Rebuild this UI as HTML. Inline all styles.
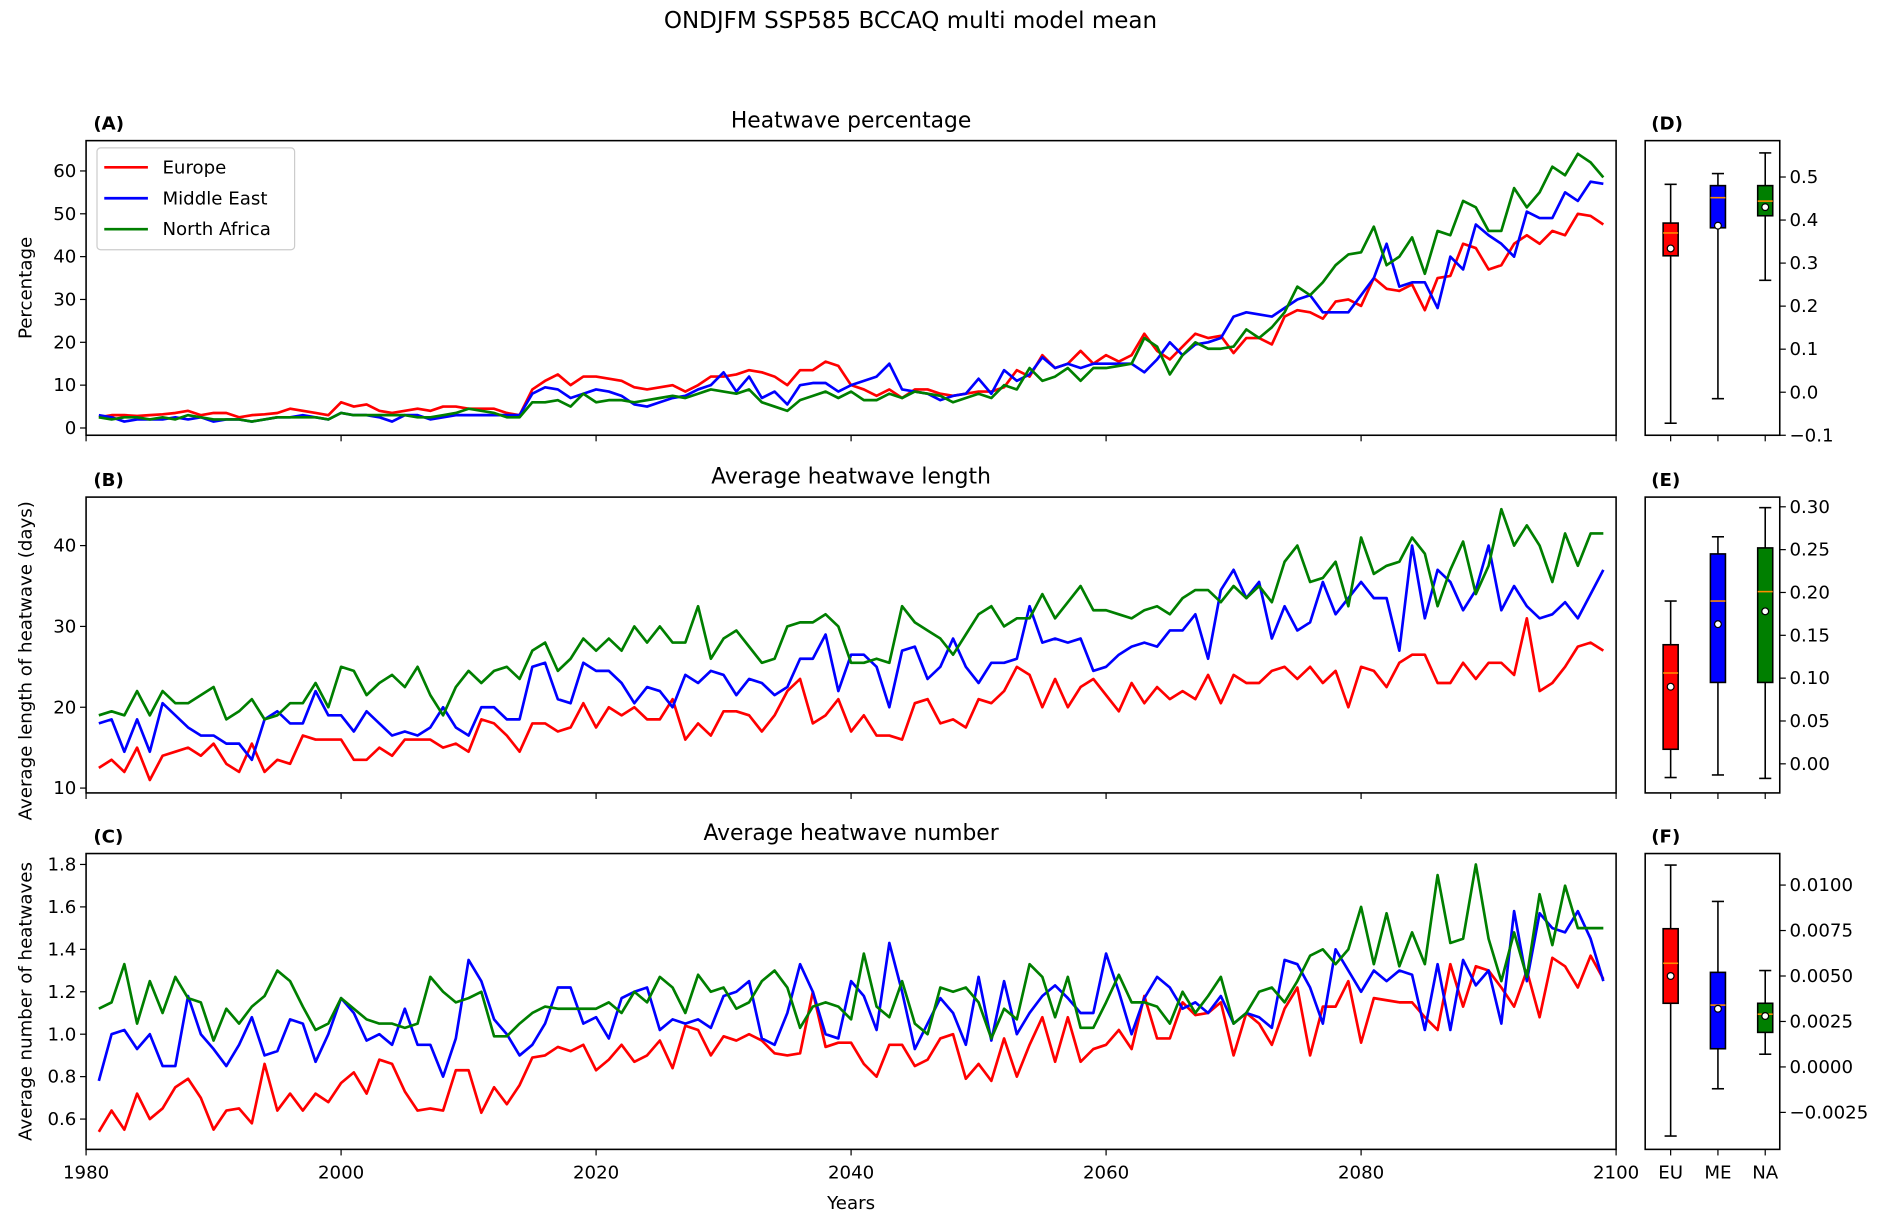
<!DOCTYPE html>
<html><head><meta charset="utf-8"><style>
html,body{margin:0;padding:0;background:#fff;}
svg{display:block;font-family:"DejaVu Sans","Liberation Sans",sans-serif;}
</style></head><body>
<svg id="fig" width="1901" height="1218" viewBox="0 0 1568 1004.6" preserveAspectRatio="none" xmlns="http://www.w3.org/2000/svg">
<rect width="1568" height="1004.6" fill="#fff"/>
<text x="751" y="23" font-size="19" text-anchor="middle">ONDJFM SSP585 BCCAQ multi model mean</text>
</svg>
<script>
const years=[];for(let y=1981;y<=2099;y++)years.push(y);
const pctEU=[2.5,3,3,2.8,3,3.2,3.5,4,3,3.5, 3.5,2.5,3,3.2,3.5,4.5,4,3.5,3,6, 5,5.5,4,3.5,4,4.5,4,5,5,4.5, 4.5,4.5,3.5,3,9,11,12.5,10,12,12, 11.5,11,9.5,9,9.5,10,8.5,10,12,12, 12.5,13.5,13,12,10,13.5,13.5,15.5,14.5,10, 9,7.5,9,7,9,9,8,7.5,8,8.5, 8.5,9.5,13.5,12,17,14,15,18,15,17, 15.5,17,22,18,16,19,22,21,21.5,17.5, 21,21,19.5,26,27.5,27,25.5,29.5,30,28.5, 35,32.5,32,33.5,27.5,35,35.5,43,42,37, 38,43,45,43,46,45,50,49.5,47.5];
const pctME=[3,2.5,1.5,2,2,2,2.5,2,2.5,1.5, 2,2,1.5,2,2.5,2.5,3,2.5,2,3.5, 3,3,2.5,1.5,3,3,2,2.5,3,3, 3,3,3,3,8,9.5,9,7,8,9, 8.5,7.5,5.5,5,6,7,7.5,9,10,13, 8.5,12,7,8.5,5.5,10,10.5,10.5,8.5,10, 11,12,15,9,8.5,8,6.5,7.5,8,11.5, 8,13.5,11,12.5,16.5,14,15,14,15,15, 15,15,13,16,20,17,19.5,20,21,26, 27,26.5,26,28,30,31,27,27,27,31, 35,43,33,34,34,28,40,37,47.5,45, 43,40,50.5,49,49,55,53,57.5,57];
const pctNA=[2.5,2,2.5,2.5,2,2.5,2,3,2.5,2, 2,2,1.5,2,2.5,2.5,2.5,2.5,2,3.5, 3,3,3,3,3,2.5,2.5,3,3.5,4.5, 4,3.5,2.5,2.5,6,6,6.5,5,8,6, 6.5,6.5,6,6.5,7,7.5,7,8,9,8.5, 8,9,6,5,4,6.5,7.5,8.5,7,8.5, 6.5,6.5,8,7,8.5,8,7.5,6,7,8, 7,10,9,14,11,12,14,11,14,14, 14.5,15,21,19,12.5,17,20,18.5,18.5,19, 23,21,23.5,27,33,31,34,38,40.5,41, 47,38,40,44.5,36,46,45,53,51.5,46, 46,56,51.5,55,61,59,64,62,58.5];
const lenEU=[12.5,13.5,12,15,11,14,14.5,15,14,15.5, 13,12,15.5,12,13.5,13,16.5,16,16,16, 13.5,13.5,15,14,16,16,16,15,15.5,14.5, 18.5,18,16.5,14.5,18,18,17,17.5,20.5,17.5, 20,19,20,18.5,18.5,21,16,18,16.5,19.5, 19.5,19,17,19,22,23.5,18,19,21,17, 19,16.5,16.5,16,20.5,21,18,18.5,17.5,21, 20.5,22,25,24,20,23.5,20,22.5,23.5,21.5, 19.5,23,20.5,22.5,21,22,21,24,20.5,24, 23,23,24.5,25,23.5,25,23,24.5,20,25, 24.5,22.5,25.5,26.5,26.5,23,23,25.5,23.5,25.5, 25.5,24,31,22,23,25,27.5,28,27];
const lenME=[18,18.5,14.5,18.5,14.5,20.5,19,17.5,16.5,16.5, 15.5,15.5,13.5,18.5,19.5,18,18,22,19,19, 17,19.5,18,16.5,17,16.5,17.5,20,17.5,16.5, 20,20,18.5,18.5,25,25.5,21,20.5,25.5,24.5, 24.5,23,20.5,22.5,22,20,24,23,24.5,24, 21.5,23.5,23,21.5,22.5,26,26,29,22,26.5, 26.5,25,20,27,27.5,23.5,25,28.5,25,23, 25.5,25.5,26,32.5,28,28.5,28,28.5,24.5,25, 26.5,27.5,28,27.5,29.5,29.5,31.5,26,34.5,37, 33.5,35.5,28.5,32.5,29.5,30.5,35.5,31.5,33.5,35.5, 33.5,33.5,27,40,31,37,35.5,32,34.5,40, 32,35,32.5,31,31.5,33,31,34,37];
const lenNA=[19,19.5,19,22,19,22,20.5,20.5,21.5,22.5, 18.5,19.5,21,18.5,19,20.5,20.5,23,20,25, 24.5,21.5,23,24,22.5,25,21.5,19,22.5,24.5, 23,24.5,25,23.5,27,28,24.5,26,28.5,27, 28.5,27,30,28,30,28,28,32.5,26,28.5, 29.5,27.5,25.5,26,30,30.5,30.5,31.5,30,25.5, 25.5,26,25.5,32.5,30.5,29.5,28.5,26.5,29,31.5, 32.5,30,31,31,34,31,33,35,32,32, 31.5,31,32,32.5,31.5,33.5,34.5,34.5,33,35, 33.5,35,33,38,40,35.5,36,38,32.5,41, 36.5,37.5,38,41,39,32.5,37,40.5,34,37.5, 44.5,40,42.5,40,35.5,41.5,37.5,41.5,41.5];
const numEU=[0.54,0.64,0.55,0.72,0.6,0.65,0.75,0.79,0.7,0.55, 0.64,0.65,0.58,0.86,0.64,0.72,0.64,0.72,0.68,0.77, 0.82,0.72,0.88,0.86,0.73,0.64,0.65,0.64,0.83,0.83, 0.63,0.75,0.67,0.76,0.89,0.9,0.94,0.92,0.95,0.83, 0.88,0.95,0.87,0.9,0.97,0.84,1.04,1.02,0.9,0.99, 0.97,1.0,0.97,0.91,0.9,0.91,1.2,0.94,0.96,0.96, 0.86,0.8,0.95,0.95,0.85,0.88,0.98,1.0,0.79,0.86, 0.78,0.98,0.8,0.95,1.08,0.87,1.08,0.87,0.93,0.95, 1.02,0.93,1.18,0.98,0.98,1.15,1.09,1.1,1.15,0.9, 1.1,1.05,0.95,1.12,1.22,0.9,1.13,1.13,1.25,0.96, 1.17,1.16,1.15,1.15,1.08,1.02,1.33,1.13,1.32,1.3, 1.22,1.13,1.3,1.08,1.36,1.32,1.22,1.37,1.26];
const numME=[0.78,1.0,1.02,0.93,1.0,0.85,0.85,1.18,1.0,0.93, 0.85,0.95,1.08,0.9,0.92,1.07,1.05,0.87,1.0,1.17, 1.1,0.97,1.0,0.95,1.12,0.95,0.95,0.8,0.98,1.35, 1.25,1.07,1.0,0.9,0.95,1.05,1.22,1.22,1.05,1.08, 0.98,1.17,1.2,1.22,1.02,1.07,1.05,1.07,1.03,1.18, 1.2,1.25,0.98,0.95,1.1,1.33,1.2,1.0,0.98,1.25, 1.18,1.02,1.43,1.2,0.93,1.05,1.17,1.1,0.95,1.27, 0.97,1.25,1.0,1.1,1.18,1.23,1.17,1.1,1.1,1.38, 1.2,1.0,1.17,1.27,1.22,1.12,1.15,1.1,1.18,1.05, 1.1,1.08,1.03,1.35,1.33,1.22,1.05,1.4,1.3,1.2, 1.3,1.25,1.3,1.28,1.02,1.33,1.02,1.35,1.23,1.3, 1.05,1.58,1.25,1.57,1.5,1.48,1.58,1.45,1.25];
const numNA=[1.12,1.15,1.33,1.05,1.25,1.1,1.27,1.17,1.15,0.97, 1.12,1.05,1.13,1.18,1.3,1.25,1.13,1.02,1.05,1.17, 1.12,1.07,1.05,1.05,1.03,1.05,1.27,1.2,1.15,1.17, 1.2,0.99,0.99,1.05,1.1,1.13,1.12,1.12,1.12,1.12, 1.15,1.1,1.2,1.15,1.27,1.22,1.1,1.28,1.2,1.22, 1.12,1.15,1.25,1.3,1.22,1.03,1.13,1.15,1.13,1.07, 1.38,1.13,1.08,1.25,1.05,1.0,1.22,1.2,1.22,1.15, 0.98,1.12,1.07,1.33,1.27,1.08,1.27,1.03,1.03,1.15, 1.28,1.15,1.15,1.13,1.05,1.2,1.1,1.18,1.27,1.05, 1.1,1.2,1.22,1.15,1.25,1.37,1.4,1.33,1.4,1.6, 1.33,1.57,1.32,1.48,1.33,1.75,1.43,1.45,1.8,1.45, 1.25,1.48,1.27,1.66,1.42,1.7,1.5,1.5,1.5];
const boxCats=["EU","ME","NA"];
// [min,q1,median,q3,max,mean]
const boxD=[[-0.072,0.317,0.37,0.393,0.483,0.334],[-0.015,0.382,0.452,0.48,0.508,0.387],[0.26,0.41,0.444,0.48,0.556,0.43]];
const boxE=[[-0.016,0.017,0.106,0.139,0.19,0.09],[-0.013,0.095,0.19,0.245,0.265,0.163],[-0.017,0.095,0.201,0.252,0.299,0.178]];
const boxF=[[-0.0038,0.0035,0.0057,0.0076,0.0111,0.0050],[-0.0012,0.0010,0.0034,0.0052,0.0091,0.0032],[0.0007,0.0019,0.0029,0.0035,0.0053,0.0028]];
const xTicks=[1980,2000,2020,2040,2060,2080,2100];
const ticksA=[0,10,20,30,40,50,60];
const ticksB=[10,20,30,40];
const ticksC=[0.6,0.8,1.0,1.2,1.4,1.6,1.8];
const ticksD=[-0.1,0.0,0.1,0.2,0.3,0.4,0.5];
const ticksE=[0.00,0.05,0.10,0.15,0.20,0.25,0.30];
const ticksF=[-0.0025,0.0000,0.0025,0.0050,0.0075,0.0100];

const NS="http://www.w3.org/2000/svg";
const svg=document.getElementById('fig');
function mk(tag,attrs,parent){const e=document.createElementNS(NS,tag);for(const k in attrs)e.setAttribute(k,attrs[k]);(parent||svg).appendChild(e);return e;}
const X0=71,X1=1333;
const xs=v=>X0+(v-1980)/120*(X1-X0);
const colors=["#ff0000","#0000ff","#007f00"];
function lin(v0,p0,v1,p1){return v=>p0+(v-v0)/(v1-v0)*(p1-p0);}

const panels=[
 {lab:"(A)",title:"Heatwave percentage",top:116,bot:359,ys:lin(0,353,60,141),ticks:ticksA,fmt:v=>String(v),series:[pctEU,pctME,pctNA],ylab:"Percentage",yl:"a",
  box:boxD,bys:lin(0.5,146,-0.1,359),bt:ticksD,bf:v=>v.toFixed(1).replace('-','−'),blab:"(D)"},
 {lab:"(B)",title:"Average heatwave length",top:410,bot:654,ys:lin(10,650,40,450),ticks:ticksB,fmt:v=>String(v),series:[lenEU,lenME,lenNA],ylab:"Average length of heatwave (days)",yl:"b",
  box:boxE,bys:lin(0,630,0.3,418),bt:ticksE,bf:v=>v.toFixed(2),blab:"(E)"},
 {lab:"(C)",title:"Average heatwave number",top:704,bot:948,ys:lin(0.6,923,1.8,713),ticks:ticksC,fmt:v=>v.toFixed(1),series:[numEU,numME,numNA],ylab:"Average number of heatwaves",yl:"c",
  box:boxF,bys:lin(0,880,0.01,730),bt:ticksF,bf:v=>v.toFixed(4).replace('-','−'),blab:"(F)"}
];
const BX0=1357,BX1=1468,bxs=[1378,1417,1456];
panels.forEach((p,pi)=>{
  const g=mk('g',{});
  
  
  const t=mk('text',{x:702,y:p.top-11,'font-size':18,'text-anchor':'middle'},g);t.textContent=p.title;
  
  
  const l=mk('text',{x:77,y:p.top-9,'font-size':15,'font-weight':'bold'},g);l.textContent=p.lab;
  
  
  p.series.forEach((s,si)=>{
    const d=s.map((v,i)=>(i?'L':'M')+xs(years[i]).toFixed(2)+','+p.ys(v).toFixed(2)).join('');
    const pa=mk('path',{d:d,fill:'none',stroke:colors[si],'stroke-width':2.2,'stroke-linejoin':'round'},g);
    
    
  });
  const fr=mk('rect',{x:X0,y:p.top,width:X1-X0,height:p.bot-p.top,fill:'none',stroke:'#000','stroke-width':1.3},g);
  
  
  p.ticks.forEach(v=>{const y=p.ys(v);mk('line',{x1:X0-5,x2:X0,y1:y,y2:y,stroke:'#000'},g);
    const tt=mk('text',{x:X0-8,y:y+5,'font-size':15,'text-anchor':'end'},g);tt.textContent=p.fmt(v);
    
    });
  xTicks.forEach(v=>{const x=xs(v);mk('line',{x1:x,x2:x,y1:p.bot,y2:p.bot+5,stroke:'#000'},g);
    if(pi===2){const tt=mk('text',{x:x,y:p.bot+24,'font-size':15,'text-anchor':'middle'},g);tt.textContent=v;
      
      }});
  const cy=(p.top+p.bot)/2+(pi===1?-4:0);
  const yl=mk('text',{x:0,y:0,'font-size':15,'text-anchor':'middle',transform:`translate(26,${pi===1?545:cy}) rotate(-90)`},g);yl.textContent=p.ylab;
  
  
  const bl=mk('text',{x:1362,y:p.top-9,'font-size':15,'font-weight':'bold'},g);bl.textContent=p.blab;
  
  
  p.box.forEach((b,bi)=>{
    const x=bxs[bi],w=12.4,ys=p.bys;
    const bg=mk('g',{},g);
    
    
    mk('line',{x1:x,x2:x,y1:ys(b[0]),y2:ys(b[1]),stroke:'#000','stroke-width':1.3},bg);
    mk('line',{x1:x,x2:x,y1:ys(b[3]),y2:ys(b[4]),stroke:'#000','stroke-width':1.3},bg);
    mk('line',{x1:x-5,x2:x+5,y1:ys(b[0]),y2:ys(b[0]),stroke:'#000','stroke-width':1.3},bg);
    mk('line',{x1:x-5,x2:x+5,y1:ys(b[4]),y2:ys(b[4]),stroke:'#000','stroke-width':1.3},bg);
    mk('rect',{x:x-w/2,y:ys(b[3]),width:w,height:ys(b[1])-ys(b[3]),fill:colors[bi],stroke:'#000','stroke-width':1.3},bg);
    mk('line',{x1:x-w/2,x2:x+w/2,y1:ys(b[2]),y2:ys(b[2]),stroke:'#ff8c00','stroke-width':1.3},bg);
    mk('circle',{cx:x,cy:ys(b[5]),r:2.8,fill:'#fff',stroke:'#000','stroke-width':1},bg);
  });
  const bf=mk('rect',{x:BX0,y:p.top,width:BX1-BX0,height:p.bot-p.top,fill:'none',stroke:'#000','stroke-width':1.3},g);
  
  
  p.bt.forEach(v=>{const y=p.bys(v);mk('line',{x1:BX1,x2:BX1+5,y1:y,y2:y,stroke:'#000'},g);
    const tt=mk('text',{x:BX1+8,y:y+5,'font-size':15},g);tt.textContent=p.bf(v);
    
    });
  bxs.forEach((x,bi)=>{mk('line',{x1:x,x2:x,y1:p.bot,y2:p.bot+5,stroke:'#000'},g);
    if(pi===2){const tt=mk('text',{x:x,y:p.bot+24,'font-size':15,'text-anchor':'middle'},g);tt.textContent=boxCats[bi];
      
      }});
});
const xl=mk('text',{x:702,y:997,'font-size':15,'text-anchor':'middle'});xl.textContent='Years';


const lg=mk('g',{});


mk('rect',{x:80,y:122,width:163,height:84,rx:3,fill:'#fff',stroke:'#ccc','stroke-width':1},lg);
["Europe","Middle East","North Africa"].forEach((n,i)=>{
  const y=138+i*25.5;
  const e=mk('g',{},lg);
  
  
  mk('line',{x1:86,x2:122,y1:y,y2:y,stroke:colors[i],'stroke-width':2.2},e);
  const t=mk('text',{x:134,y:y+5,'font-size':15},e);t.textContent=n;
});
</script>
</body></html>
